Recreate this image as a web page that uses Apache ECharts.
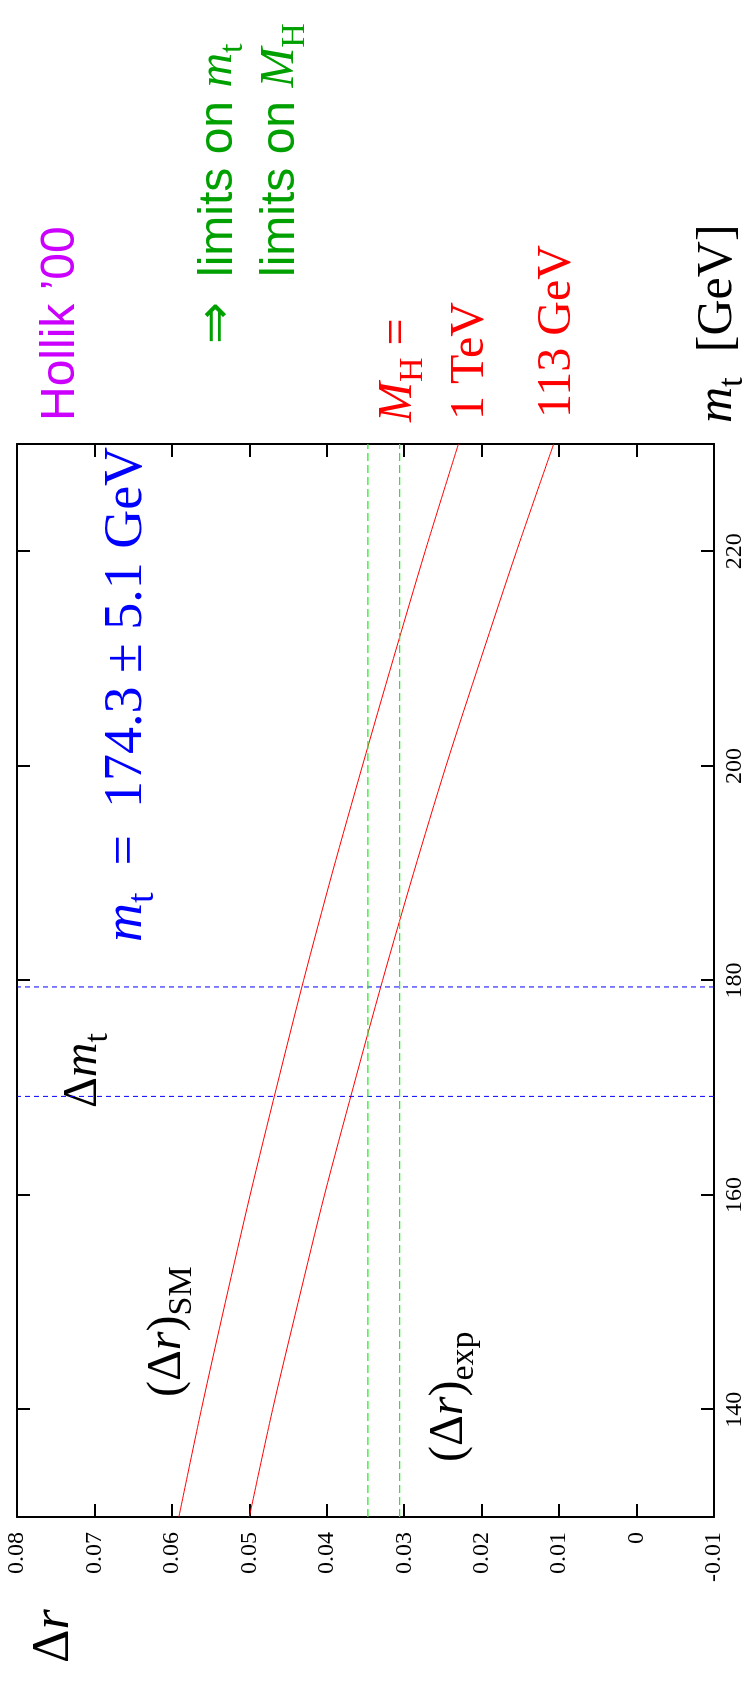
<!DOCTYPE html>
<html>
<head>
<meta charset="utf-8">
<script src="https://cdn.jsdelivr.net/npm/echarts@6/dist/echarts.min.js"></script>
<style>
html, body { margin: 0; padding: 0; background: #fff; width: 747px; height: 1686px; overflow: hidden; }
/* the plot is laid out landscape, then turned a quarter turn counter-clockwise */
#main { position: absolute; left: 0; top: 0; width: 1686px; height: 747px;
        transform-origin: 0 0; transform: translate(0, 1686px) rotate(-90deg); }
</style>
</head>
<body>
<div id="main"></div>
<script>
"use strict";
// m_t in GeV, Delta r
let mtValues = [130, 140, 150, 160, 170, 180, 190, 200, 210, 220, 230];
let drHiggs1TeV = [0.0591, 0.0562, 0.0531, 0.0499, 0.0465, 0.0430, 0.0393, 0.0354, 0.0314, 0.0273, 0.0230];
let drHiggs113 = [0.0500, 0.0470, 0.0437, 0.0403, 0.0366, 0.0328, 0.0288, 0.0246, 0.0201, 0.0155, 0.0107];
// m_t = 174.3 +- 5.1 and the experimental Delta r band
let mtBand = [169.2, 179.4];
let drBand = [0.0306, 0.0347];
let mtTicks = [140, 160, 180, 200, 220];
let drTicks = [-0.01, 0, 0.01, 0.02, 0.03, 0.04, 0.05, 0.06, 0.07, 0.08];
let mtMin = 130, mtMax = 230;
let drMin = -0.01, drMax = 0.08;

const SERIF = '"Liberation Serif", "Times New Roman", serif';
const SANS = '"Liberation Sans", Arial, sans-serif';

let myChart = echarts.init(document.getElementById('main'));

// text placed by its left edge and baseline; {i|..} italic, {s|..} subscript
function tex(x, base, size, color, text, family) {
    let fam = family || SERIF;
    let sub = Math.round(size * 0.7);
    return {
        type: 'text', x: x, y: base - 0.34 * size, silent: true,
        style: {
            text: text, fill: color, align: 'left', verticalAlign: 'middle',
            font: size + 'px ' + fam,
            rich: {
                a: { fontFamily: SANS, fontSize: size, fill: color, verticalAlign: 'middle' },
                n: { fontFamily: SERIF, fontSize: size, fill: color, verticalAlign: 'middle' },
                i: { fontFamily: SERIF, fontStyle: 'italic', fontSize: size, fill: color, verticalAlign: 'middle' },
                s: { fontFamily: SERIF, fontSize: sub, fill: color, verticalAlign: 'middle',
                     lineHeight: sub, padding: [Math.round(size * 0.6), 0, 0, 0] }
            }
        }
    };
}

function frameAxis(pos, min, max, ticks, label) {
    return {
        type: 'value', position: pos, min: min, max: max,
        axisLine: { show: true, onZero: false, lineStyle: { color: '#000', width: 2 } },
        axisTick: { show: true, inside: true, length: 13, customValues: ticks,
                    lineStyle: { color: '#000', width: 2 } },
        axisLabel: label ? Object.assign({ customValues: ticks, fontFamily: SERIF, fontSize: 24,
                    color: '#000', showMinLabel: true, showMaxLabel: true }, label) : { show: false },
        splitLine: { show: false }
    };
}

let series = [
    { name: 'M_H = 1 TeV', data: mtValues.map((m, i) => [m, drHiggs1TeV[i]]),
      lineStyle: { color: '#ff0000', width: 1 } },
    { name: 'M_H = 113 GeV', data: mtValues.map((m, i) => [m, drHiggs113[i]]),
      lineStyle: { color: '#ff0000', width: 1 } }
].map(s => Object.assign({ type: 'line', showSymbol: false, smooth: 0.3, silent: true }, s));

mtBand.forEach(m => series.push({
    type: 'line', showSymbol: false, silent: true, data: [[m, drMin], [m, drMax]],
    lineStyle: { color: '#0000ff', width: 1, type: [5, 4] }
}));
drBand.forEach(d => series.push({
    type: 'line', showSymbol: false, silent: true, data: [[mtMin, d], [mtMax, d]],
    lineStyle: { color: '#22ee22', width: 1.3, type: [8, 4] }
}));

let option = {
    animation: false,
    backgroundColor: '#fff',
    grid: { left: 169, right: 444, top: 17, bottom: 28 },
    xAxis: [
        frameAxis('bottom', mtMin, mtMax, mtTicks, { margin: 9 }),
        frameAxis('top', mtMin, mtMax, mtTicks, null)
    ],
    yAxis: [
        frameAxis('left', drMin, drMax, drTicks, { margin: 15,
            formatter: v => String(Math.round(v * 100) / 100) }),
        frameAxis('right', drMin, drMax, drTicks, null)
    ],
    series: series,
    graphic: [
        tex(23, 72, 52, '#000', '{n|Δ}{i|r}'),
        tex(1263, 735, 50, '#000', '{i|m}{s|t}{n|  [GeV]}'),
        tex(1265, 77, 48, '#cc00ff', '{a|Hollik ’00}', SANS),
        tex(1342, 235, 50, '#00a000', '{n|⇒}'),
        tex(1409, 235, 48, '#00a000', '{a|limits on }{i|m}{s|t}', SANS),
        tex(1409, 297, 48, '#00a000', '{a|limits on }{i|M}{s|H}', SANS),
        tex(1264, 415, 48, '#ff0000', '{i|M}{s|H}{n| =}'),
        tex(1266, 487, 48, '#ff0000', '{n|1 TeV}'),
        tex(1268, 574, 48, '#ff0000', '{n|113 GeV}'),
        tex(744, 145, 54, '#0000ff', '{i|m}{s|t}{n|  =  174.3 ± 5.1 GeV}'),
        tex(578, 100, 48, '#000', '{n|Δ}{i|m}{s|t}'),
        tex(289, 184, 48, '#000', '{n|(Δ}{i|r}{n|)}{s|SM}'),
        tex(224, 466, 48, '#000', '{n|(Δ}{i|r}{n|)}{s|exp}')
    ]
};
myChart.setOption(option);
</script>
</body>
</html>
